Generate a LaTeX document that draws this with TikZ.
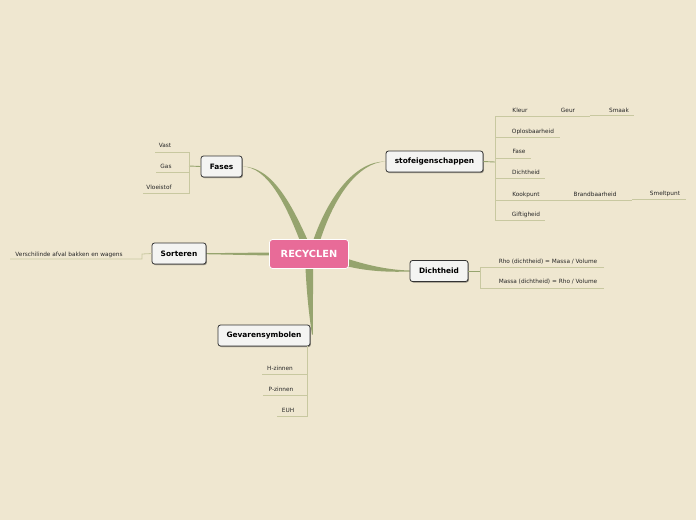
\documentclass[tikz,border=0pt]{standalone}
\usepackage{fontspec}
\setmainfont{DejaVu Sans}
\usetikzlibrary{shadows,calc}
\definecolor{bgc}{RGB}{239,231,208}
\definecolor{branch}{RGB}{150,164,110}
\definecolor{subc}{RGB}{200,200,160}
\definecolor{pinkc}{RGB}{232,107,152}
\definecolor{boxc}{RGB}{244,244,242}
\pgfdeclarelayer{back}
\pgfsetlayers{back,main}
\tikzset{
  rootbox/.style={fill=pinkc, draw=white, line width=0.8pt, rounded corners=3pt,
    text=white, font=\bfseries\fontsize{9.8}{11}\selectfont, minimum width=79, minimum height=29, inner sep=0},
  mainbox/.style={draw=black!80, fill=boxc, rounded corners=2.5pt, line width=0.8pt,
    font=\bfseries\fontsize{7.4}{8}\selectfont, minimum height=21, inner sep=0,
    drop shadow={shadow xshift=0.9pt, shadow yshift=-1pt, opacity=0.4, fill=black}},
  leaf/.style={inner sep=0, font=\fontsize{5.8}{6.5}\selectfont, text=black!85},
  subl/.style={draw=subc, line width=0.8pt},
  conn/.style={draw=branch, line width=0.9pt},
  br/.style={fill=branch},
}
\begin{document}
\begin{tikzpicture}[x=1pt,y=-1pt]
\begin{pgfonlayer}{back}
\fill[bgc] (0,0) rectangle (696,520);
\end{pgfonlayer}
\useasboundingbox (0,0) rectangle (696,520);

% main nodes
\node[rootbox] (root) at (309,254) {RECYCLEN};
\node[mainbox, minimum width=41] (fases) at (221.5,166.5) {Fases};
\node[mainbox, minimum width=97] (stof) at (434.5,161.5) {stofeigenschappen};
\node[mainbox, minimum width=54] (sort) at (179,253.5) {Sorteren};
\node[mainbox, minimum width=58] (dicht) at (439,271) {Dichtheid};
\node[mainbox, minimum width=92] (gev) at (264,335.5) {Gevarensymbolen};

% tapered branches
\begin{pgfonlayer}{back}
\fill[br] (300,241) .. controls (286,205) and (268,167) .. (fases.east)
   .. controls (272,166.5) and (292,205) .. (308,241) -- cycle;
\fill[br] (313,241) .. controls (328,197) and (355,161) .. (stof.west)
   .. controls (358,162.5) and (334,197) .. (320,241) -- cycle;
\fill[br] (305.5,268) .. controls (307,300) and (310,320) .. ($(gev.east)+(1.5,-1)$)
   -- ($(gev.east)+(2.5,-1)$) .. controls (313,310) and (313,300) .. (313,268) -- cycle;
\fill[br] (348,259) .. controls (370,266) and (390,270) .. ($(dicht.west)+(0,-0.5)$)
   -- ($(dicht.west)+(0,0.5)$) .. controls (385,272.5) and (365,270.5) .. (348,266.5) -- cycle;
\fill[br] (270,252.5) -- ($(sort.east)+(0,-0.3)$) -- ($(sort.east)+(0,0.7)$) -- (270,255.5) -- cycle;
\end{pgfonlayer}

% ---- Fases leaves
\coordinate (fb) at (189,166);
\coordinate (fbt) at (189,152);
\coordinate (fbb) at (189,193);
\node[leaf] (vast) at (165,145.5) {Vast};
\node[leaf] (gas) at (166,166.5) {Gas};
\node[leaf] (vloei) at (159,187.5) {Vloeistof};
\coordinate (vastl) at (155,152);
\coordinate (gasl) at (156,172);
\coordinate (vloeil) at (143,193);
\draw[conn] (fases.west) -- (fb);
\draw[subl] (vastl) -- (fbt) -- (fbb) -- (vloeil);
\draw[subl] (gasl) -- (gasl -| fb);

% ---- stofeigenschappen leaves
\coordinate (sb) at (495,162);
\coordinate (sbt) at (495,116);
\coordinate (sbb) at (495,220);
\draw[conn] (stof.east) -- (sb);
\node[leaf] (kleur) at (520,110.5) {Kleur};
\node[leaf] (geur) at (568,110.5) {Geur};
\node[leaf] (smaak) at (619,110.5) {Smaak};
\node[leaf] (oplos) at (533,131.5) {Oplosbaarheid};
\node[leaf] (fase) at (519,151.5) {Fase};
\node[leaf] (dichtl) at (526,172.5) {Dichtheid};
\node[leaf] (kook) at (526,194.5) {Kookpunt};
\node[leaf] (brand) at (595,194.5) {Brandbaarheid};
\node[leaf] (smelt) at (665,193.5) {Smeltpunt};
\node[leaf] (gift) at (526,214.5) {Giftigheid};
\coordinate (kleurE) at (590,116);
\coordinate (smaakS) at (590,115);
\coordinate (smaakE) at (634,115);
\coordinate (oplosE) at (560,137);
\coordinate (faseE) at (531,158);
\coordinate (dichtE) at (545,178);
\coordinate (kookE) at (632,200);
\coordinate (smeltS) at (632,199);
\coordinate (smeltE) at (686,199);
\coordinate (giftE) at (545,220);
\draw[subl] (sbt) -- (sbb);
\draw[subl] (sbt) -- (kleurE);
\draw[subl] (smaakS) -- (smaakE);
\draw[subl] (oplosE -| sb) -- (oplosE);
\draw[subl] (faseE -| sb) -- (faseE);
\draw[subl] (dichtE -| sb) -- (dichtE);
\draw[subl] (kookE -| sb) -- (kookE);
\draw[subl] (smeltS) -- (smeltE);
\draw[subl] (sbb) -- (giftE);

% ---- Sorteren leaf
\node[leaf] (versch) at (69,254.5) {Verschilinde afval bakken en wagens};
\coordinate (vl) at (10,259);
\coordinate (vr) at (142,259);
\coordinate (vs) at (142,254);
\draw[subl] (vl) -- (vr) -- (vs) -- (sort.west);

% ---- Dichtheid leaves
\coordinate (db) at (480,271);
\coordinate (dbt) at (480,267);
\coordinate (dbb) at (480,288);
\draw[conn] (dicht.east) -- (db);
\node[leaf] (rho) at (548,261.5) {Rho (dichtheid) = Massa / Volume};
\node[leaf] (massa) at (548,281.5) {Massa (dichtheid) = Rho / Volume};
\coordinate (rhoE) at (604,267);
\coordinate (massaE) at (604,288);
\draw[subl] (rhoE) -- (dbt) -- (dbb) -- (massaE);

% ---- Gevarensymbolen leaves
\coordinate (gt) at (307,346);
\coordinate (gb) at (307,416);
\node[leaf] (hz) at (280,368.5) {H-zinnen};
\node[leaf] (pz) at (281,389.5) {P-zinnen};
\node[leaf] (euh) at (288,410.5) {EUH};
\coordinate (hzl) at (262,374);
\coordinate (pzl) at (263,395);
\coordinate (euhl) at (277,416);
\draw[subl] (gt) -- (gb) -- (euhl);
\draw[subl] (hzl) -- (hzl -| gt);
\draw[subl] (pzl) -- (pzl -| gt);
\end{tikzpicture}
\end{document}
